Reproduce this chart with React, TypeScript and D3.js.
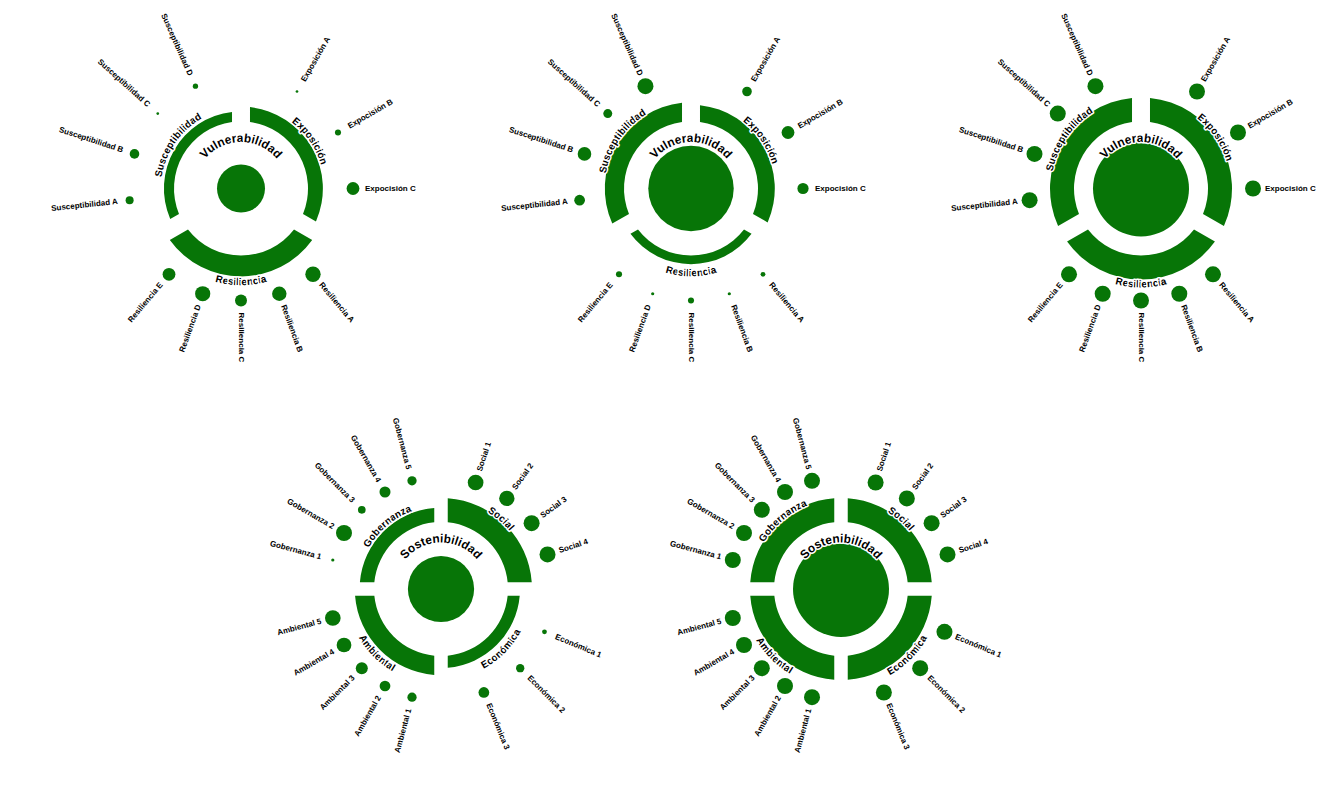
import React, { useEffect, useRef } from "react";
import * as d3 from "d3";

const WIDTH = 1343;
const HEIGHT = 795;
const GREEN = "#077507";
const FONT = "'Liberation Sans', Arial, sans-serif";

// ---- Vulnerabilidad (top row, 3 charts)
const vulnHub = "Vulnerabilidad";
const vulnSegments = ["Exposición", "Resiliencia", "Susceptibilidad"];
const vulnItems = [
  ["Exposición A", "Expocisión B", "Expocisión C"],
  ["Resiliencia A", "Resiliencia B", "Resiliencia C", "Resiliencia D", "Resiliencia E"],
  ["Susceptibilidad A", "Susceptibilidad B", "Susceptibilidad C", "Susceptibilidad D"],
];
const vulnHubValues = [0.5, 0.89, 1];
const vulnSegmentValues = [
  [0.62, 0.87, 0.42],
  [0.7, 0.36, 0.8],
  [1, 1, 1],
];
const vulnItemValues = [
  [[0.17, 0.38, 0.8], [0.96, 0.9, 0.75, 0.95, 0.8], [0.5, 0.6, 0.17, 0.33]],
  [[0.6, 0.8, 0.7], [0.3, 0.2, 0.38, 0.2, 0.38], [0.67, 0.85, 0.56, 1]],
  [[1, 1, 1], [1, 1, 1, 1, 1], [1, 1, 1, 1]],
];

// ---- Sostenibilidad (bottom row, 2 charts)
const sostHub = "Sostenibilidad";
const sostSegments = ["Social", "Económica", "Ambiental", "Gobernanza"];
const sostItems = [
  ["Social 1", "Social 2", "Social 3", "Social 4"],
  ["Económica 1", "Económica 2", "Económica 3"],
  ["Ambiental 1", "Ambiental 2", "Ambiental 3", "Ambiental 4", "Ambiental 5"],
  ["Gobernanza 1", "Gobernanza 2", "Gobernanza 3", "Gobernanza 4", "Gobernanza 5"],
];
const sostHubValues = [0.69, 1];
const sostSegmentValues = [
  [1, 0.5, 0.8, 0.6],
  [1, 1, 1, 1],
];
const sostItemValues = [
  [[0.98, 0.96, 1, 1], [0.3, 0.52, 0.67], [0.58, 0.67, 0.75, 0.92, 0.98], [0.2, 1, 0.48, 0.69, 0.58]],
  [[1, 1, 1, 1], [1, 1, 1], [1, 1, 1, 1, 1], [1, 1, 1, 1, 1]],
];

type ChartSpec = {
  hub: string;
  hubValue: number;
  segments: string[];
  segmentValues: number[];
  items: string[][];
  itemValues: number[][];
  pad: number;
  cx: number;
  cy: number;
};

const INNER = 67;
const ITEM_RING = 112;
const ITEM_LABEL = 124;
const HUB_LABEL = 46.5;
// upper labels sit a little closer to 12 o'clock than the segment middle
const TOP_LABEL_SHIFT = (4.5 * Math.PI) / 180;

const hubR = d3.scaleLinear().domain([0, 1]).range([0, 48]);
const outerR = d3.scaleLinear().domain([0, 1]).range([INNER, 91]);
const dotR = d3.scaleLinear().domain([0, 1]).range([0, 8]);
const topLabelR = d3.scaleLinear().domain([0, 1]).range([73, 90]);
const bottomLabelR = d3.scaleLinear().domain([0, 1]).range([81.5, 99]);

const halo = (sel: d3.Selection<any, any, any, any>) =>
  sel
    .attr("stroke", "#fff")
    .attr("stroke-width", 3)
    .attr("stroke-linejoin", "round")
    .attr("paint-order", "stroke");

const drawChart = (
  root: d3.Selection<SVGGElement, unknown, null, undefined>,
  spec: ChartSpec,
  id: string
) => {
  const g = root.append("g").attr("transform", `translate(${spec.cx},${spec.cy})`);

  const pie = d3
    .pie<string>()
    .value(() => 1)
    .sort(null)
    .padAngle(spec.pad);
  const slices = pie(spec.segments);

  const arc = d3
    .arc<d3.PieArcDatum<string>>()
    .innerRadius(INNER)
    .outerRadius((d) => outerR(spec.segmentValues[d.index]))
    .padRadius(100);

  g.selectAll("path.seg")
    .data(slices)
    .enter()
    .append("path")
    .attr("class", "seg")
    .attr("d", arc)
    .attr("fill", GREEN);

  g.append("circle").attr("r", hubR(spec.hubValue)).attr("fill", GREEN);

  slices.forEach((s, si) => {
    const angle = d3
      .scalePoint<string>()
      .domain(spec.items[si])
      .range([s.startAngle, s.endAngle])
      .padding(1);

    spec.items[si].forEach((name, ii) => {
      const a = angle(name) as number;
      const deg = (a * 180) / Math.PI;
      g.append("circle")
        .attr("cx", ITEM_RING * Math.sin(a))
        .attr("cy", -ITEM_RING * Math.cos(a))
        .attr("r", dotR(spec.itemValues[si][ii]))
        .attr("fill", GREEN);

      const flip = deg > 180.001;
      g.append("text")
        .attr(
          "transform",
          `rotate(${deg - 90}) translate(${ITEM_LABEL},0)` + (flip ? " rotate(180)" : "")
        )
        .attr("text-anchor", flip ? "end" : "start")
        .attr("dominant-baseline", "central")
        .attr("font-family", FONT)
        .attr("font-size", 8)
        .attr("font-weight", "bold")
        .attr("fill", "#000")
        .text(name);
    });

    // curved segment label
    const mid = (s.startAngle + s.endAngle) / 2;
    const bottom = mid > Math.PI / 2 && mid < (3 * Math.PI) / 2;
    const v = spec.segmentValues[si];
    const r = bottom ? bottomLabelR(v) : topLabelR(v);
    const shift = bottom ? 0 : mid < Math.PI ? -TOP_LABEL_SHIFT : TOP_LABEL_SHIFT;
    const a0 = s.startAngle + shift - Math.PI / 2;
    const a1 = s.endAngle + shift - Math.PI / 2;
    const p = d3.path();
    if (bottom) p.arc(0, 0, r, a1, a0, true);
    else p.arc(0, 0, r, a0, a1, false);
    const pid = `${id}-seg-${si}`;
    g.append("path").attr("id", pid).attr("d", p.toString()).attr("fill", "none");
    g.append("text")
      .attr("font-family", FONT)
      .attr("font-size", 10)
      .attr("font-weight", "bold")
      .attr("fill", "#000")
      .call(halo)
      .append("textPath")
      .attr("href", `#${pid}`)
      .attr("startOffset", "50%")
      .attr("text-anchor", "middle")
      .text(spec.segments[si]);
  });

  // hub label on top of the centre
  const hp = d3.path();
  hp.arc(0, 0, HUB_LABEL, -Math.PI, 0, false);
  const hid = `${id}-hub`;
  g.append("path").attr("id", hid).attr("d", hp.toString()).attr("fill", "none");
  g.append("text")
    .attr("font-family", FONT)
    .attr("font-size", 12)
    .attr("font-weight", "bold")
    .attr("fill", "#000")
    .call(halo)
    .append("textPath")
    .attr("href", `#${hid}`)
    .attr("startOffset", "50%")
    .attr("text-anchor", "middle")
    .text(spec.hub);
};

const TOP_X = [241, 691, 1141];
const BOTTOM_X = [441, 841];
const ROW_Y = [188.5, 589];

const App: React.FC = () => {
  const svgRef = useRef<SVGSVGElement | null>(null);

  useEffect(() => {
    const svgElement = svgRef.current;
    if (!svgElement) return;
    const svg = d3.select(svgElement);
    svg.selectAll("*").remove();
    const root = svg.append("g");

    vulnHubValues.forEach((hv, i) => {
      drawChart(
        root,
        {
          hub: vulnHub,
          hubValue: hv,
          segments: vulnSegments,
          segmentValues: vulnSegmentValues[i],
          items: vulnItems,
          itemValues: vulnItemValues[i],
          pad: 0.18,
          cx: TOP_X[i],
          cy: ROW_Y[0],
        },
        `v${i}`
      );
    });

    sostHubValues.forEach((hv, i) => {
      drawChart(
        root,
        {
          hub: sostHub,
          hubValue: hv,
          segments: sostSegments,
          segmentValues: sostSegmentValues[i],
          items: sostItems,
          itemValues: sostItemValues[i],
          pad: 0.135,
          cx: BOTTOM_X[i],
          cy: ROW_Y[1],
        },
        `s${i}`
      );
    });
  }, []);

  return (
    <svg
      ref={svgRef}
      width={WIDTH}
      height={HEIGHT}
      style={{ position: "absolute", left: 0, top: 0, background: "#fff" }}
    />
  );
};

export default App;
